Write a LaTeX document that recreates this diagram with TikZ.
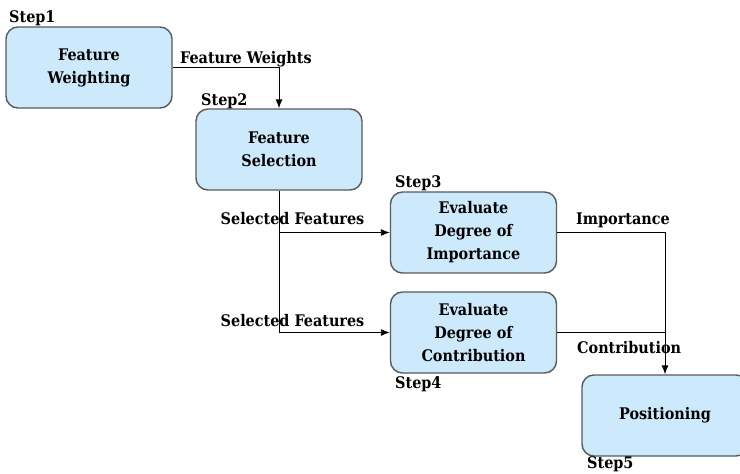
\documentclass[tikz,border=0pt]{standalone}
\usepackage{fontspec}
\newfontfamily\diagfont{DejaVu Serif Condensed}
\usetikzlibrary{arrows.meta}
\definecolor{boxfill}{RGB}{204,234,252}
\definecolor{boxline}{RGB}{90,90,90}
\begin{document}
\begin{tikzpicture}[x=1pt,y=-1pt,
  font=\diagfont\fontsize{16}{23}\selectfont\bfseries,
  stepbox/.style={draw=boxline, fill=boxfill, line width=1.4pt, rounded corners=12pt,
    minimum width=166pt, minimum height=81pt, align=center, inner sep=0pt},
  steplabel/.style={anchor=base west, inner sep=0pt},
  flow/.style={draw=black, line width=0.9pt},
  arrowflow/.style={flow, -{Latex[length=9pt,width=7pt]}}]
\useasboundingbox (0,0) rectangle (740,474);
\fill[white] (0,0) rectangle (740,474);

% process steps
\node[stepbox] (b1) at (89,67.5) {Feature\\Weighting};
\node[stepbox] (b2) at (279,149.5) {Feature\\Selection};
\node[stepbox] (b3) at (473.5,232.5) {Evaluate\\Degree of\\Importance};
\node[stepbox] (b4) at (473.5,332.5) {Evaluate\\Degree of\\Contribution};
\node[stepbox] (b5) at (665,415.5) {Positioning};

% step captions
\node[steplabel] (s1) at (9,22.5) {Step1};
\node[steplabel] (s2) at (201,105) {Step2};
\node[steplabel] (s3) at (395,187) {Step3};
\node[steplabel] (s4) at (395,388) {Step4};
\node[steplabel] (s5) at (587,468) {Step5};

% connectors
\draw[arrowflow] (b1.east) -| (b2.north);
\coordinate (split) at (b2.south |- b4.west);
\draw[flow] (b2.south) -- (split);
\draw[arrowflow] (b2.south |- b3.west) -- (b3.west);
\draw[arrowflow] (split) -- (b4.west);
\draw[arrowflow] (b3.east) -| (b5.north);
\draw[flow] (b4.east) -- (b4.east -| b5.north);

% connector labels
\node[steplabel] (lw) at (180,63) {Feature Weights};
\node[steplabel] (ls1) at (220.5,224) {Selected Features};
\node[steplabel] (ls2) at (220.5,326) {Selected Features};
\node[steplabel] (li) at (576,224) {Importance};
\node[steplabel] (lc) at (577,353) {Contribution};
\end{tikzpicture}
\end{document}
